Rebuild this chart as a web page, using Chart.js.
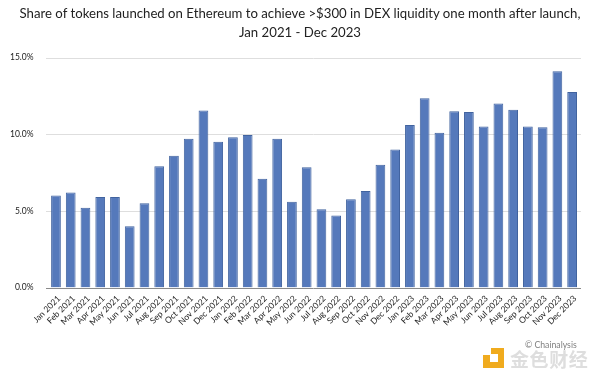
<!DOCTYPE html>
<html><head><meta charset="utf-8">
<script src="https://cdn.jsdelivr.net/npm/chart.js@4"></script>
<style>
html,body{margin:0;padding:0;background:#fff;overflow:hidden}
#w{position:relative;width:600px;height:380px}
#t{position:absolute;left:0;top:4px;width:600px;text-align:center;font:13.2px/19px Lato,sans-serif;color:#222}
#c{position:absolute;left:0;top:0}
.m{position:absolute}
.o{position:absolute;background:#f0ab1e}
</style></head><body><div id="w">
<canvas id="c" width="600" height="380"></canvas>
<div id="t">Share of tokens launched on Ethereum to achieve &gt;$300 in DEX liquidity one month after launch,<br>Jan 2021 - Dec 2023</div>
<div class="m" style="left:525px;top:339px;font:8.7px Lato,sans-serif;color:#808080">© Chainalysis</div>
<div class="m" style="left:510px;top:345px;font:bold 19px 'Noto Sans CJK SC',sans-serif;color:#dedede;letter-spacing:.6px;white-space:nowrap">金色财经</div>
<div class="o" style="left:491px;top:348px;width:13px;height:6px"></div>
<div class="o" style="left:498px;top:348px;width:6px;height:20px"></div>
<div class="o" style="left:483px;top:362px;width:21px;height:6px"></div>
<div class="o" style="left:483px;top:355px;width:7px;height:7px"></div>
</div>
<script>
const months = ["Jan","Feb","Mar","Apr","May","Jun","Jul","Aug","Sep","Oct","Nov","Dec"];
const years = ["2021","2022","2023"];
const categories = years.flatMap(y => months.map(m => m + " " + y));
const values = [6.0,6.2,5.2,5.9,5.9,4.0,5.5,7.9,8.6,9.7,11.55,9.5,9.8,9.95,7.1,9.7,5.6,7.85,5.1,4.7,5.75,6.3,8.0,9.0,10.6,12.35,10.1,11.5,11.45,10.5,12.0,11.6,10.5,10.45,14.1,12.75];
const yTicks = [0,5,10,15];
const rules = {
  id: "rules",
  beforeDatasetsDraw(chart) {
    const g = chart.ctx, y = chart.scales.y;
    g.save();
    g.lineWidth = 1;
    yTicks.forEach(v => {
      const p = Math.round(y.getPixelForValue(v)) + 0.5;
      g.strokeStyle = v === 0 ? "#8a8a8a" : "#dedede";
      g.beginPath(); g.moveTo(46, p); g.lineTo(581, p); g.stroke();
    });
    g.restore();
  }
};
new Chart(document.getElementById("c"), {
  type: "bar",
  data: { labels: categories, datasets: [{ data: values, backgroundColor: "#5579bb", borderColor: "#41639f", borderWidth: {left:1,right:1,top:1,bottom:0}, barPercentage: 0.66, categoryPercentage: 1 }] },
  options: {
    responsive: false, animation: false,
    layout: { padding: { left: 0, right: 20.5, top: 57.5, bottom: 0 } },
    plugins: { legend: { display: false }, tooltip: { enabled: false } },
    scales: {
      x: {
        afterFit(a){ a.height = 92.5; },
        grid: { display: false },
        border: { display: false },
        ticks: { autoSkip: false, maxRotation: 45, minRotation: 45, padding: -2, labelOffset: 3, color: "#222", font: { family: "Lato", size: 8.5 } }
      },
      y: {
        min: 0, max: 15,
        afterFit(a){ a.width = 48.6; },
        afterBuildTicks(a){ a.ticks = yTicks.map(v => ({ value: v })); },
        grid: { display: false },
        border: { display: false },
        ticks: { padding: 7, color: "#222", font: { family: "Lato", size: 8.5 }, callback: v => v.toFixed(1) + "%" }
      }
    }
  },
  plugins: [rules]
});
</script></body></html>
